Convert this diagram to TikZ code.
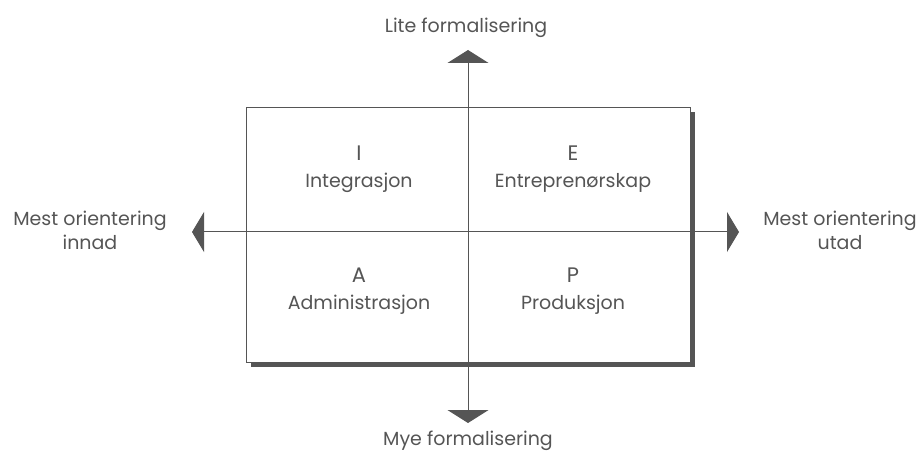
\documentclass[tikz,border=0pt]{standalone}
\usepackage{fontspec}
\setmainfont{Poppins}
\usetikzlibrary{arrows.meta}
\definecolor{ink}{HTML}{555555}
\definecolor{axiscol}{HTML}{555555}
\tikzset{
  lbl/.style={text=ink, font=\fontsize{19}{24}\selectfont, inner sep=0pt, align=center},
  qletter/.style={text=ink, font=\fontsize{21}{24}\selectfont, inner sep=0pt},
  axisline/.style={draw=axiscol, line width=1pt},
  quad/.style={draw=axiscol, line width=1pt, fill=white},
}
\begin{document}
\begin{tikzpicture}[x=1pt,y=-1pt]
\useasboundingbox (0,0) rectangle (920,462);
% shadow and box
\fill[axiscol] (251,112) rectangle (695,367);
\node[quad, minimum width=444pt, minimum height=255pt, anchor=north west] (box) at (246,107) {};
% axes
\coordinate (top) at (468,50);
\coordinate (bot) at (468,423);
\coordinate (lft) at (192,232);
\coordinate (rgt) at (739,232);
\coordinate (c) at (468,232);
\draw[axisline, fill=axiscol, {Triangle[width=41pt,length=13pt]}-{Triangle[width=41pt,length=13pt]}] (top) -- (bot);
\draw[axisline, fill=axiscol, {Triangle[width=40pt,length=12pt]}-{Triangle[width=40pt,length=12pt]}] (lft) -- (rgt);
% axis labels
\node[lbl] (lite) at (466,28) {Lite formalisering};
\node[lbl] (mye) at (468,441) {Mye formalisering};
\node[lbl] (innad) at (90,230) {Mest orientering\\innad};
\node[lbl] (utad) at (840,230) {Mest orientering\\utad};
% quadrants
\node[qletter] (qI) at (359,153) {I};
\node[lbl] (qIt) at (359,183) {Integrasjon};
\node[qletter] (qE) at (573,153) {E};
\node[lbl] (qEt) at (573,183) {Entreprenørskap};
\node[qletter] (qA) at (359,275) {A};
\node[lbl] (qAt) at (359,305) {Administrasjon};
\node[qletter] (qP) at (573,275) {P};
\node[lbl] (qPt) at (573,305) {Produksjon};
\end{tikzpicture}
\end{document}
